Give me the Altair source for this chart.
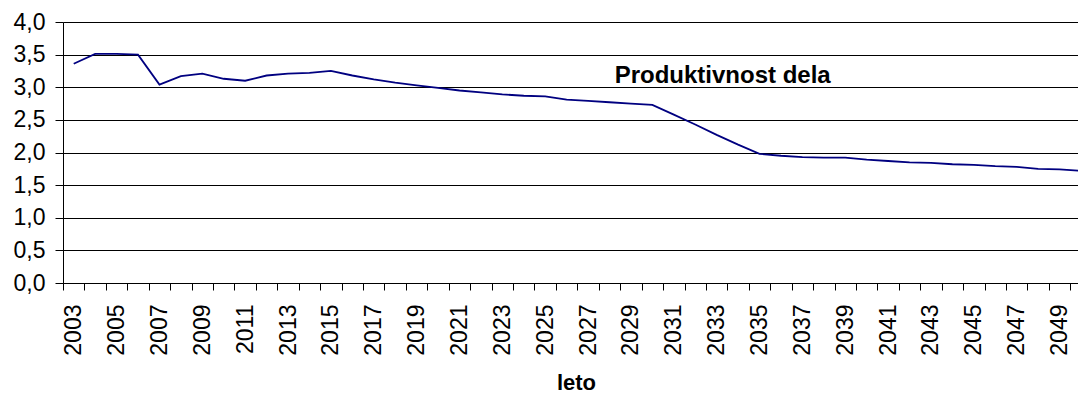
import altair as alt
import pandas as pd

years = list(range(2003, 2051))
values = [3.36, 3.51, 3.51, 3.50, 3.04, 3.17, 3.21, 3.13, 3.10, 3.18,
          3.21, 3.22, 3.25, 3.18, 3.12, 3.07, 3.03, 2.99, 2.95, 2.92,
          2.89, 2.87, 2.86, 2.81, 2.79, 2.77, 2.75, 2.73, 2.58, 2.43,
          2.27, 2.12, 1.98, 1.95, 1.93, 1.92, 1.92, 1.89, 1.87, 1.85,
          1.84, 1.82, 1.81, 1.79, 1.78, 1.75, 1.74, 1.72]

label_text = ["Produktivnost dela"]
label_year = [2028.24]
label_value = [3.07]

y_ticks = [0.0, 0.5, 1.0, 1.5, 2.0, 2.5, 3.0, 3.5, 4.0]
x_bounds = [y - 0.5 for y in range(2003, 2051)]

df = pd.DataFrame({"leto": years, "value": values})
df_lab = pd.DataFrame({"leto": label_year, "value": label_value, "t": label_text})

FONT = "Liberation Sans"
x_scale = alt.Scale(domain=[2002.5, 2049.86], nice=False, zero=False)
y_scale = alt.Scale(domain=[0, 4], nice=False)

x_axis = alt.Axis(values=x_bounds, labelOffset=10.7, labelAngle=270,
                  labelExpr="(datum.value + 0.5) % 2 == 1 ? format(datum.value + 0.5, 'd') : ''",
                  labelFont=FONT, labelFontSize=23, labelColor="#000",
                  labelPadding=14, tickSize=7, tickColor="#000",
                  domainColor="#000", grid=False, labelOverlap=False,
                  title="leto", titleFont=FONT, titleFontSize=22,
                  titleFontWeight="bold", titleColor="#000",
                  titleX=513, titleY=106, titleBaseline="alphabetic",
                  titleAlign="center")
y_axis = alt.Axis(values=y_ticks, labelExpr="replace(format(datum.value, '.1f'), '.', ',')",
                  labelFont=FONT, labelFontSize=23, labelColor="#000",
                  labelPadding=10, tickSize=8, tickColor="#000",
                  labelOverlap=False,
                  domainColor="#000", grid=True, gridColor="#000",
                  gridWidth=1, gridOpacity=1, title=None)

line = alt.Chart(df).mark_line(color="#000080", strokeWidth=1.8, clip=True).encode(
    x=alt.X("leto:Q", scale=x_scale, axis=x_axis),
    y=alt.Y("value:Q", scale=y_scale, axis=y_axis),
)

text = alt.Chart(df_lab).mark_text(
    align="left", baseline="alphabetic", font=FONT, fontSize=24,
    fontWeight="bold", color="#000"
).encode(x=alt.X("leto:Q", scale=x_scale, axis=x_axis),
         y=alt.Y("value:Q", scale=y_scale, axis=y_axis), text="t:N")

chart = (line + text).properties(
    width=1015, height=261,
    autosize=alt.AutoSizeParams(type="none"),
    padding={"left": 63, "top": 22, "right": 0, "bottom": 111},
).configure_view(stroke="transparent").configure(background="white")

chart.save("out.html", embed_options={"renderer": "svg", "actions": False})
